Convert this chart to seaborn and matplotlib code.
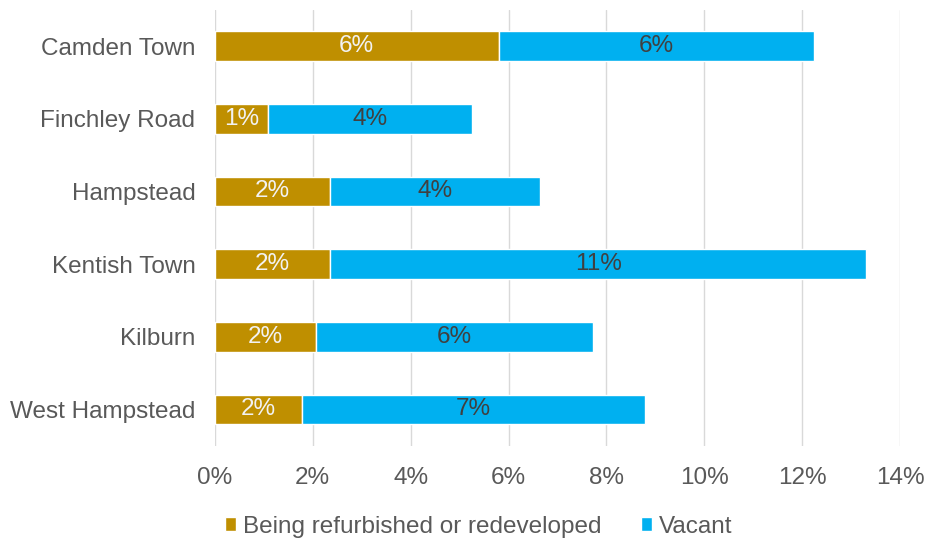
import matplotlib
matplotlib.use('Agg')
import matplotlib.pyplot as plt
import seaborn as sns
import pandas as pd
import numpy as np

# Share of units by state (% of stock)
areas = ['Camden Town', 'Finchley Road', 'Hampstead', 'Kentish Town', 'Kilburn', 'West Hampstead']
refurbished = [5.8, 1.08, 2.35, 2.35, 2.06, 1.78]
vacant = [6.45, 4.18, 4.3, 10.96, 5.66, 7.0]
xticks = [0, 2, 4, 6, 8, 10, 12, 14]

BROWN = '#BF8F00'
BLUE = '#00B0F0'
TEXT = '#595959'
FS = 17.5

df = pd.DataFrame({'area': areas, 'refurb': refurbished, 'vacant': vacant})

sns.set_theme(style='white')
plt.rcParams['font.family'] = ['Liberation Sans', 'DejaVu Sans']

fig, ax = plt.subplots(figsize=(9.26, 5.43), dpi=100)
fig.subplots_adjust(left=0.232, right=0.972, top=0.982, bottom=0.179)

bw = 0.41
sns.barplot(data=df, x='refurb', y='area', color=BROWN, width=bw, saturation=1,
            ax=ax, label='Being refurbished or redeveloped', zorder=3)
ax.barh(np.arange(len(df)), df['vacant'], left=df['refurb'], height=bw,
        color=BLUE, label='Vacant', zorder=3)

ax.bar_label(ax.containers[0], fmt='{:.0f}%', label_type='center',
             color='#F2F2F2', fontsize=FS)
ax.bar_label(ax.containers[1], fmt='{:.0f}%', label_type='center',
             color='#404040', fontsize=FS)

ax.set_xlim(0, 14)
ax.set_ylim(len(df) - 0.5, -0.5)
ax.set_xticks(xticks)
ax.set_xticklabels([f'{t}%' for t in xticks])
ax.tick_params(axis='both', length=0, labelsize=FS, colors=TEXT)
ax.tick_params(axis='x', pad=15)
ax.tick_params(axis='y', pad=14)
ax.set_xlabel('')
ax.set_ylabel('')
ax.grid(axis='x', color='#D9D9D9', linewidth=1, zorder=0)
for s in ax.spines.values():
    s.set_visible(False)

ax.legend(loc='upper center', bbox_to_anchor=(0.385, -0.11), ncol=2, frameon=False,
          fontsize=FS, labelcolor=TEXT, handlelength=0.45, handleheight=0.45,
          handletextpad=0.3, columnspacing=1.6)

fig.savefig('out.png', dpi=100)
